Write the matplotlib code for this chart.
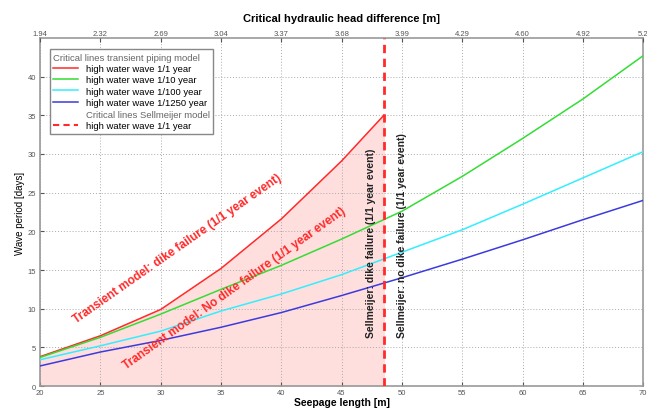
import matplotlib
matplotlib.use("Agg")
import matplotlib.pyplot as plt
from matplotlib.lines import Line2D

plt.rcParams['font.family'] = ['Liberation Sans', 'DejaVu Sans']

# ---------------------------------------------------------------
# data
# ---------------------------------------------------------------
seepage = [20, 25, 30, 35, 40, 45, 50, 55, 60, 65, 70]
wave_1_10 = [3.7, 6.3, 9.3, 12.5, 15.6, 19.0, 22.6, 27.1, 32.0, 37.1, 42.7]
wave_1_100 = [3.4, 5.2, 7.1, 9.7, 11.9, 14.4, 17.3, 20.2, 23.5, 26.9, 30.3]
wave_1_1250 = [2.6, 4.4, 5.9, 7.6, 9.5, 11.7, 14.0, 16.4, 18.9, 21.5, 24.0]

seepage_red = [20, 25, 30, 35, 40, 45, 48.5]
wave_1_1 = [3.8, 6.5, 9.9, 15.2, 21.6, 29.1, 35.0]

sellmeijer_length = 48.5

seepage_ticks = [20, 25, 30, 35, 40, 45, 50, 55, 60, 65, 70]
head_labels = ['1.94', '2.32', '2.69', '3.04', '3.37', '3.68', '3.99',
               '4.29', '4.60', '4.92', '5.2']

ROOD = '#ff2a2a'
GROEN = '#33dd33'
CYAAN = '#33eeff'
BLAUW = '#3b3bdd'

fig = plt.figure(figsize=(6.47, 4.10), dpi=100)
ax = fig.add_axes([0.062, 0.056, 0.932, 0.849])

# roze gebied onder de rode lijn
ax.fill_between(seepage_red, 0, wave_1_1, color='#ffdede', zorder=1)

ax.plot(seepage_red, wave_1_1, color=ROOD, lw=1.1, zorder=3)
ax.plot(seepage, wave_1_10, color=GROEN, lw=1.1, zorder=3)
ax.plot(seepage, wave_1_100, color=CYAAN, lw=1.1, zorder=3)
ax.plot(seepage, wave_1_1250, color=BLAUW, lw=1.1, zorder=3)
ax.axvline(sellmeijer_length, color=ROOD, lw=2, ls=(0, (3, 2)), zorder=4)

ax.set_xlim(20, 70)
ax.set_ylim(0, 45)
ax.set_xticks(seepage_ticks)
ax.set_yticks([0, 5, 10, 15, 20, 25, 30, 35, 40])
ax.grid(True, color='#aaaaaa', ls=(0, (1, 2)), lw=0.7)
ax.tick_params(direction='in', labelsize=5.5, colors='#555555', length=3)
ax.tick_params(axis='x', pad=2)
ax.tick_params(axis='y', pad=3)
for s in ax.spines.values():
    s.set_color('#999999')
    s.set_linewidth(1.2)

ax.set_xlabel('Seepage length [m]', fontsize=7.5, fontweight='bold', labelpad=1)
ax.set_ylabel('Wave period [days]', fontsize=7, labelpad=2)

# bovenste as met het kritieke verval
ax2 = ax.twiny()
ax2.set_xlim(ax.get_xlim())
ax2.set_xticks(seepage_ticks)
ax2.set_xticklabels(head_labels)
ax2.tick_params(direction='in', labelsize=5.5, colors='#555555', length=3, pad=1)
ax2.set_xlabel('Critical hydraulic head difference [m]', fontsize=8,
               fontweight='bold', labelpad=6)
for s in ax2.spines.values():
    s.set_visible(False)

# teksten in de grafiek
ax.text(31.4, 17.8, 'Transient model: dike failure (1/1 year event)',
        color=ROOD, fontsize=8.6, fontweight='bold', rotation=35,
        ha='center', va='center', rotation_mode='anchor', zorder=5)
ax.text(36.1, 12.7, 'Transient model: No dike failure (1/1 year event)',
        color=ROOD, fontsize=8.6, fontweight='bold', rotation=35.5,
        ha='center', va='center', rotation_mode='anchor', zorder=5)
ax.text(47.4, 18.6, 'Sellmeijer: dike failure (1/1 year event)',
        color='#222222', fontsize=7.5, fontweight='bold', rotation=90,
        ha='center', va='center', zorder=5)
ax.text(50.0, 19.6, 'Sellmeijer: no dike failure (1/1 year event)',
        color='#222222', fontsize=7.5, fontweight='bold', rotation=90,
        ha='center', va='center', zorder=5)

# legenda met twee groepen
leeg = Line2D([], [], color='none')
handles = [
    Line2D([], [], color=ROOD, lw=1.1),
    Line2D([], [], color=GROEN, lw=1.1),
    Line2D([], [], color=CYAAN, lw=1.1),
    Line2D([], [], color=BLAUW, lw=1.1),
    leeg,
    Line2D([], [], color=ROOD, lw=1.5, ls=(0, (3, 2))),
]
labels = ['high water wave 1/1 year', 'high water wave 1/10 year',
          'high water wave 1/100 year', 'high water wave 1/1250 year',
          'Critical lines Sellmeijer model', 'high water wave 1/1 year']
leg = ax.legend(handles, labels, loc='upper left',
                bbox_to_anchor=(0.008, 0.982), fontsize=6.8,
                title='Critical lines transient piping model',
                title_fontsize=6.8, alignment='left', handlelength=2.6,
                labelspacing=0.25, borderpad=0.4, fancybox=False,
                framealpha=1, edgecolor='#888888')
leg.get_title().set_color('#666666')
leg.get_texts()[4].set_color('#666666')
leg.get_frame().set_linewidth(1.0)
leg.set_zorder(6)

fig.savefig('out.png', dpi=100)
